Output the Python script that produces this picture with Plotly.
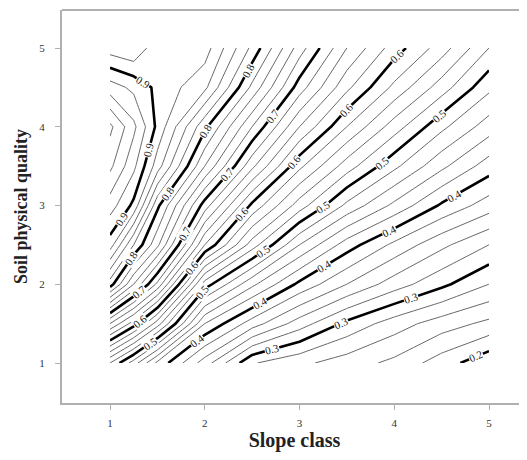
import math
import numpy as np
import plotly.graph_objects as go

# Grid
slope = [1, 1.25, 1.5, 2, 2.5, 3, 3.5, 4, 4.5, 5]
soil = [1, 1.5, 2, 2.5, 3, 3.5, 4, 4.5, 5]

z_y1 = [0.52, 0.47, 0.415, 0.35, 0.282, 0.265, 0.25, 0.235, 0.21, 0.185]
z_y1_5 = [0.66, 0.61, 0.55, 0.42, 0.37, 0.33, 0.295, 0.27, 0.25, 0.235]
z_y2 = [0.81, 0.74, 0.675, 0.51, 0.445, 0.395, 0.36, 0.33, 0.305, 0.28]
z_y2_5 = [0.89, 0.82, 0.765, 0.62, 0.53, 0.46, 0.41, 0.375, 0.345, 0.32]
z_y3 = [0.93, 0.895, 0.805, 0.69, 0.595, 0.53, 0.475, 0.435, 0.397, 0.37]
z_y3_5 = [0.965, 0.925, 0.87, 0.76, 0.665, 0.585, 0.53, 0.485, 0.445, 0.41]
z_y4 = [0.985, 0.945, 0.895, 0.805, 0.72, 0.64, 0.58, 0.53, 0.485, 0.45]
z_y4_5 = [0.93, 0.915, 0.895, 0.865, 0.775, 0.69, 0.625, 0.575, 0.53, 0.485]
z_y5 = [0.87, 0.862, 0.895, 0.89, 0.815, 0.73, 0.66, 0.61, 0.57, 0.52]

z = [z_y1, z_y1_5, z_y2, z_y2_5, z_y3, z_y3_5, z_y4, z_y4_5, z_y5]

label_levels = [0.2, 0.3, 0.4, 0.5, 0.6, 0.7, 0.8, 0.9]

tick_vals = [1, 2, 3, 4, 5]
tick_text = ["1", "2", "3", "4", "5"]

SERIF = "Liberation Serif, Times New Roman, serif"
EPS = 1e-4

X_RANGE = [0.493, 5.401]
Y_RANGE = [0.492, 5.483]
PLOT_W, PLOT_H = 465, 393

fig = go.Figure()

# thin lines every 0.02 (the 0.1 levels are drawn thick below)
for off in [0.02, 0.04, 0.06, 0.08]:
    fig.add_trace(go.Contour(
        x=slope, y=soil, z=z,
        contours=dict(start=0.2 + off + EPS, end=1.0, size=0.1, coloring="none"),
        line=dict(color="#404040", width=0.8, smoothing=0),
        showscale=False, hoverinfo="skip",
    ))

# thick lines every 0.1
fig.add_trace(go.Contour(
    x=slope, y=soil, z=z,
    contours=dict(start=0.2 + EPS, end=0.9 + EPS, size=0.1, coloring="none"),
    line=dict(color="black", width=2.6, smoothing=0),
    showscale=False, hoverinfo="skip",
))

# ---- in-line labels of the thick lines, placed along each contour ----
X = np.array(slope, float)
Y = np.array(soil, float)
Z = np.array(z, float)
sx = PLOT_W / (X_RANGE[1] - X_RANGE[0])
sy = PLOT_H / (Y_RANGE[1] - Y_RANGE[0])


def crossings(L):
    pts = []
    for i in range(len(X)):
        for j in range(len(Y) - 1):
            a, b = Z[j, i] - L, Z[j + 1, i] - L
            if a * b < 0:
                t = a / (a - b)
                pts.append((X[i], Y[j] + t * (Y[j + 1] - Y[j])))
    for j in range(len(Y)):
        for i in range(len(X) - 1):
            a, b = Z[j, i] - L, Z[j, i + 1] - L
            if a * b < 0:
                t = a / (a - b)
                pts.append((X[i] + t * (X[i + 1] - X[i]), Y[j]))
    return pts


def on_edge(p):
    x, y = p
    return min(abs(x - X[0]), abs(x - X[-1]), abs(y - Y[0]), abs(y - Y[-1])) < 1e-9


def chain(pts):
    if not pts:
        return []
    edge = [k for k, p in enumerate(pts) if on_edge(p)] or list(range(len(pts)))
    start = min(edge, key=lambda k: (pts[k][0], -pts[k][1]))
    order = [start]
    rest = set(range(len(pts))) - {start}
    while rest:
        lx, ly = pts[order[-1]]
        nxt = min(rest, key=lambda k: ((pts[k][0] - lx) * sx) ** 2 + ((pts[k][1] - ly) * sy) ** 2)
        order.append(nxt)
        rest.remove(nxt)
    return [pts[k] for k in order]


annotations = []
SPACING = 74
for L in label_levels:
    path = chain(crossings(L + EPS))
    if len(path) < 2:
        continue
    seg = []
    total = 0.0
    for (x0, y0), (x1, y1) in zip(path[:-1], path[1:]):
        d = math.hypot((x1 - x0) * sx, (y1 - y0) * sy)
        seg.append((x0, y0, x1, y1, total, d))
        total += d
    s = min(36.0, total * 0.55)
    while s < total - 12:
        for x0, y0, x1, y1, s0, d in seg:
            if s0 <= s <= s0 + d and d > 0:
                t = (s - s0) / d
                px = x0 + t * (x1 - x0)
                py = y0 + t * (y1 - y0)
                ang = math.degrees(math.atan2(-(y1 - y0) * sy, (x1 - x0) * sx))
                if ang > 90:
                    ang -= 180
                if ang < -90:
                    ang += 180
                annotations.append(dict(
                    x=px, y=py, xref="x", yref="y", text=f"{L:.1f}",
                    showarrow=False, textangle=ang, bgcolor="white",
                    borderpad=0,
                    font=dict(family=SERIF, size=11, color="#222"),
                ))
                break
        s += SPACING

axis_common = dict(
    showgrid=False, zeroline=False, automargin=False,
    showline=True, linecolor="#b0b0b0", linewidth=2,
    ticks="outside", ticklen=5, tickcolor="#b0b0b0", tickwidth=1,
    tickvals=tick_vals, ticktext=tick_text,
    tickfont=dict(family=SERIF, size=11, color="#333"),
)

fig.update_layout(
    width=519, height=444,
    margin=dict(l=54, r=0, t=2, b=49),
    paper_bgcolor="white", plot_bgcolor="white",
    showlegend=False,
    xaxis=dict(range=X_RANGE, ticklabelstandoff=4,
               title=dict(text="Slope class", standoff=20,
                          font=dict(family=SERIF, size=20, color="#222", weight="bold")),
               **axis_common),
    yaxis=dict(range=Y_RANGE, ticklabelstandoff=8,
               title=dict(text="Soil physical quality", standoff=7,
                          font=dict(family=SERIF, size=18, color="#222", weight="bold")),
               **axis_common),
    annotations=annotations,
    shapes=[dict(type="line", xref="paper", yref="paper", x0=0, x1=1, y0=1, y1=1,
                 line=dict(color="#b0b0b0", width=2))],
)

fig.write_html("out.html")
